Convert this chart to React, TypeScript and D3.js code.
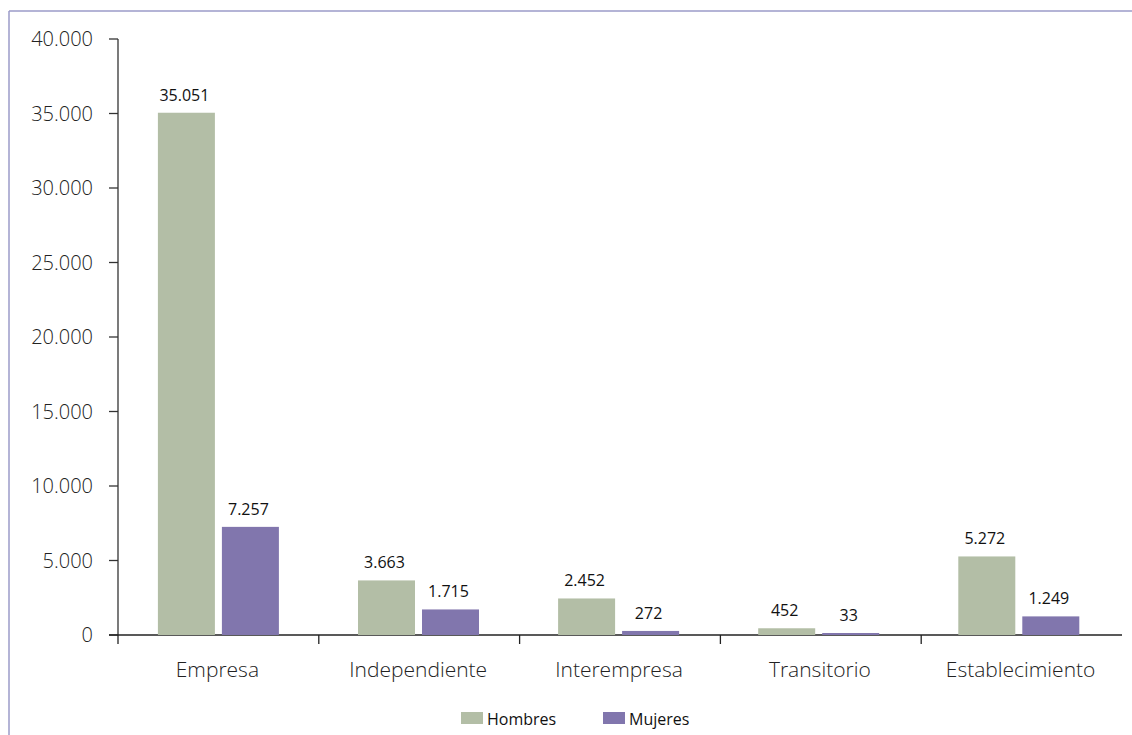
import React from 'react';
import * as d3 from 'd3';

const categories = ['Empresa', 'Independiente', 'Interempresa', 'Transitorio', 'Establecimiento'];
const hombres = [35051, 3663, 2452, 452, 5272];
const mujeres = [7257, 1715, 272, 33, 1249];
const seriesNames = ['Hombres', 'Mujeres'];
const yTicks = [0, 5000, 10000, 15000, 20000, 25000, 30000, 35000, 40000];

const colors = ['#b3bea6', '#8176ad'];
const W = 1132;
const H = 735;
const FONT = '"Open Sans", "Noto Sans", sans-serif';

// formato con punto de miles (es-CL)
const fmt = (v: number) => d3.format(',')(v).replace(/,/g, '.');

export default function App() {
  const gRef = React.useRef<SVGGElement>(null);

  React.useEffect(() => {
    const g = d3.select(gRef.current);
    g.selectAll('*').remove();

    const x0 = d3.scaleBand<string>().domain(categories).range([118, 1122]);
    const y = d3.scaleLinear().domain([0, 40000]).range([635, 39]);
    const barW = 57;
    const gap = 7;
    const groupW = barW * 2 + gap;

    // eje y
    const yAxis = g.append('g').attr('transform', 'translate(118,0)');
    yAxis.append('line').attr('y1', y(40000)).attr('y2', y(0)).attr('stroke', '#333').attr('stroke-width', 1.3);
    yAxis
      .selectAll('.yt')
      .data(yTicks)
      .enter()
      .append('line')
      .attr('x1', -9)
      .attr('x2', 0)
      .attr('y1', (d) => y(d))
      .attr('y2', (d) => y(d))
      .attr('stroke', '#333')
      .attr('stroke-width', 1.3);
    yAxis
      .selectAll('text')
      .data(yTicks)
      .enter()
      .append('text')
      .attr('x', -25)
      .attr('y', (d) => y(d))
      .attr('dy', '0.35em')
      .attr('text-anchor', 'end')
      .attr('font-family', FONT)
      .attr('font-weight', 300)
      .attr('font-size', 20)
      .attr('fill', '#222')
      .text((d) => fmt(d));

    // eje x
    g.append('line')
      .attr('x1', 109)
      .attr('x2', 1122)
      .attr('y1', y(0))
      .attr('y2', y(0))
      .attr('stroke', '#222')
      .attr('stroke-width', 1.3);
    g.selectAll('.xt')
      .data(categories)
      .enter()
      .append('line')
      .attr('x1', (d) => x0(d)!)
      .attr('x2', (d) => x0(d)!)
      .attr('y1', y(0))
      .attr('y2', y(0) + 9)
      .attr('stroke', '#222')
      .attr('stroke-width', 1.3);
    g.selectAll('.xl')
      .data(categories)
      .enter()
      .append('text')
      .attr('x', (d) => x0(d)! + x0.bandwidth() / 2 - 1)
      .attr('y', 677)
      .attr('text-anchor', 'middle')
      .attr('font-family', FONT)
      .attr('font-weight', 300)
      .attr('font-size', 21)
      .attr('fill', '#222')
      .text((d) => d);

    // barras
    const series = [hombres, mujeres];
    series.forEach((vals, si) => {
      const bx = (i: number) =>
        x0(categories[i])! + (x0.bandwidth() - groupW) / 2 + si * (barW + gap) - i * 0.7;
      g.selectAll(`.bar${si}`)
        .data(vals)
        .enter()
        .append('rect')
        .attr('x', (_, i) => bx(i))
        .attr('width', barW)
        .attr('y', (d) => Math.min(y(d), y(0) - 2))
        .attr('height', (d) => Math.max(y(0) - y(d), 2))
        .attr('fill', colors[si]);
      g.selectAll(`.lab${si}`)
        .data(vals)
        .enter()
        .append('text')
        .attr('x', (_, i) => bx(i) + barW / 2 - 2)
        .attr('y', (d) => Math.min(y(d), y(0) - 2) - 12)
        .attr('text-anchor', 'middle')
        .attr('font-family', FONT)
        .attr('font-size', 16)
        .attr('fill', '#111')
        .text((d) => fmt(d));
    });

    // leyenda
    const legX = [461, 603];
    seriesNames.forEach((name, i) => {
      g.append('rect').attr('x', legX[i]).attr('y', 712).attr('width', 22).attr('height', 12).attr('fill', colors[i]);
      g.append('text')
        .attr('x', legX[i] + 26)
        .attr('y', 725)
        .attr('font-family', FONT)
        .attr('font-size', 16)
        .attr('fill', '#111')
        .text(name);
    });
  }, []);

  return (
    <svg
      width={W}
      height={H}
      style={{ position: 'absolute', left: 0, top: 0, background: '#fff' }}
    >
      <line x1={9} x2={W} y1={11} y2={11} stroke="#9b9bc8" strokeWidth={1.5} />
      <line x1={9} x2={9} y1={11} y2={H} stroke="#9b9bc8" strokeWidth={1.5} />
      <g ref={gRef} />
    </svg>
  );
}
